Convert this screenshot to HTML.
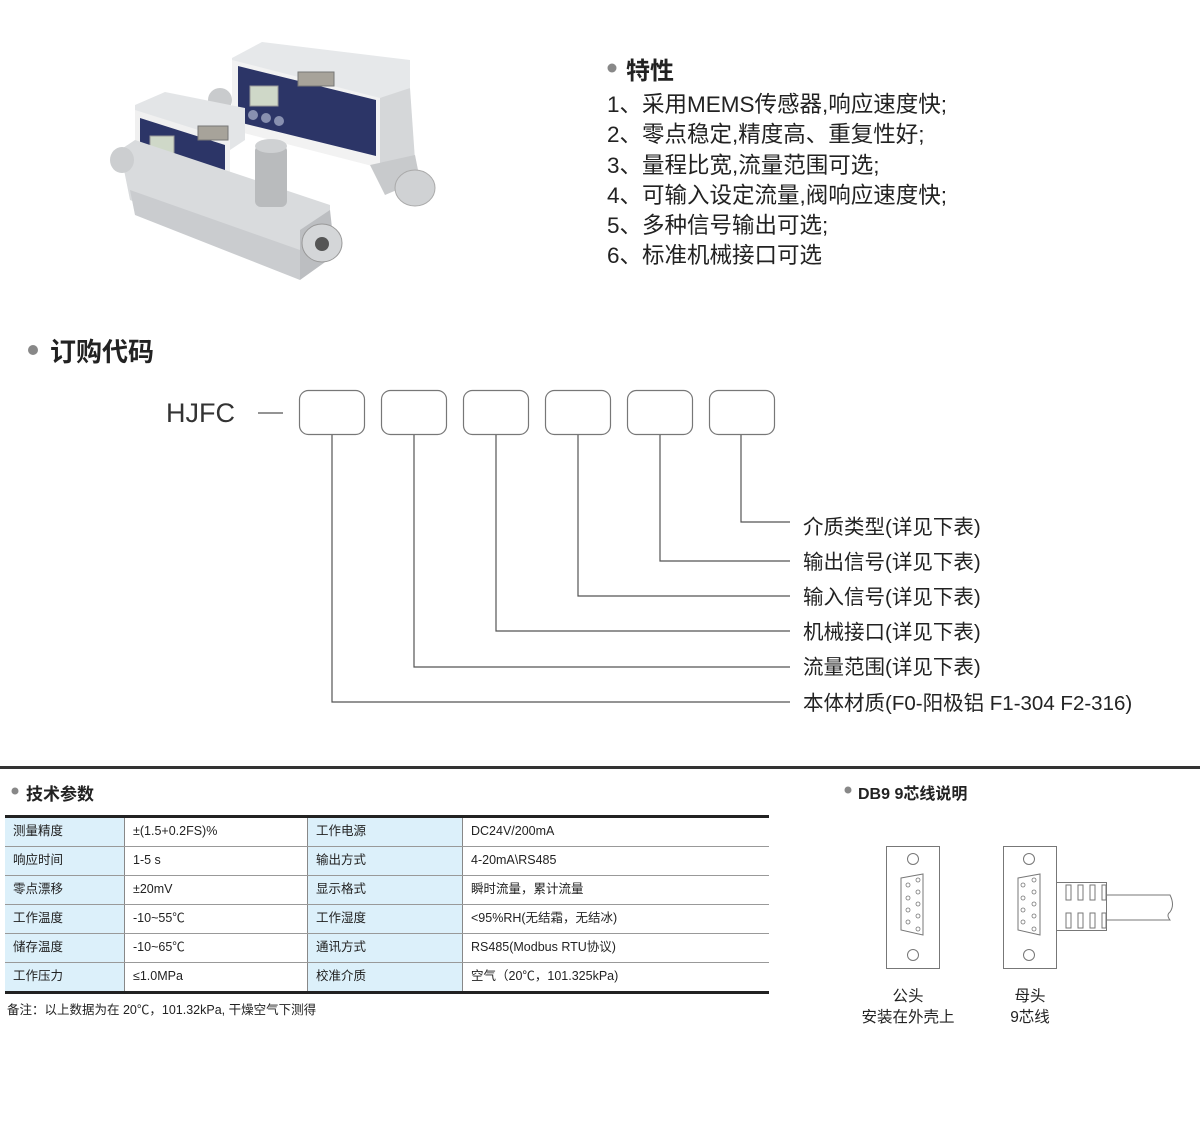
<!DOCTYPE html>
<html><head><meta charset="utf-8"><style>
html,body{margin:0;padding:0;background:#fff;}
body{width:1200px;height:1147px;position:relative;overflow:hidden;font-family:"Liberation Sans","Noto Sans CJK SC",sans-serif;color:#222;}
svg{position:absolute;left:0;top:0;}
.t{position:absolute;white-space:nowrap;}
.feat{font-size:22.5px;line-height:30.3px;left:607px;top:90px;color:#222;}
.lbl{font-size:20.5px;left:803px;color:#222;}
table{position:absolute;left:5px;top:815px;width:764px;border-collapse:collapse;font-size:12.5px;border-top:3px solid #222;border-bottom:3px solid #222;}
td{height:26px;line-height:16px;border-bottom:1px solid #999;border-right:1px solid #888;padding:0 0 2px 8px;vertical-align:middle;}
td:last-child{border-right:none;}
tr:last-child td{border-bottom:none;}
.b{background:#dcf0fa;}
</style></head><body>
<svg width="1200" height="1147" viewBox="0 0 1200 1147">
<g>
 <polygon points="232,58 262,42 410,60 410,88 380,100 232,80" fill="#e6e8ea"/>
 <polygon points="232,60 380,98 380,168 232,130" fill="#f2f2f2"/>
 <polygon points="238,66 376,100 376,156 238,122" fill="#2c3567"/>
 <rect x="250" y="86" width="28" height="20" fill="#cfd8c8" stroke="#999"/>
 <circle cx="253" cy="115" r="5" fill="#8890b0"/><circle cx="266" cy="118" r="5" fill="#8890b0"/><circle cx="279" cy="121" r="5" fill="#8890b0"/>
 <rect x="298" y="72" width="36" height="14" fill="#a7a39a" stroke="#777"/>
 <polygon points="380,98 410,88 415,160 380,170" fill="#d5d7d9"/>
 <polygon points="370,165 415,155 420,180 385,195" fill="#c8cacc"/>
 <ellipse cx="415" cy="188" rx="20" ry="18" fill="#d0d2d4" stroke="#aaa"/>
 <ellipse cx="220" cy="100" rx="12" ry="12" fill="#c9cbcd"/>
 <polygon points="135,105 165,92 245,108 245,140 230,150 135,120" fill="#e3e5e7"/>
 <polygon points="135,110 230,140 230,210 135,180" fill="#f0f0f0"/>
 <polygon points="140,118 225,145 225,200 140,172" fill="#2c3567"/>
 <rect x="150" y="136" width="24" height="18" fill="#cfd8c8" stroke="#999"/>
 <rect x="198" y="126" width="30" height="14" fill="#a7a39a" stroke="#777"/>
 <polygon points="120,150 135,140 330,205 330,245 300,270 130,200" fill="#d9dbdd"/>
 <polygon points="130,190 300,250 300,280 135,215" fill="#cacccf"/>
 <polygon points="300,230 330,210 335,255 300,280" fill="#bcbec1"/>
 <rect x="255" y="145" width="32" height="62" rx="6" fill="#b9bbbd"/>
 <ellipse cx="271" cy="146" rx="16" ry="7" fill="#cfd1d3"/>
 <ellipse cx="322" cy="243" rx="20" ry="19" fill="#d4d6d8" stroke="#999"/>
 <circle cx="322" cy="244" r="7" fill="#555"/>
 <ellipse cx="122" cy="160" rx="12" ry="13" fill="#ccced0"/>
</g>
<circle cx="612" cy="68" r="4.5" fill="#888"/>
<circle cx="33" cy="350" r="5" fill="#888"/>
<circle cx="15" cy="791" r="3.5" fill="#888"/>
<circle cx="848" cy="790" r="3.5" fill="#888"/>
<line x1="258" y1="413" x2="283" y2="413" stroke="#555" stroke-width="1.2"/>
<g fill="none" stroke="#777" stroke-width="1.2">
 <rect x="299.5" y="390.5" width="65" height="44" rx="9"/>
 <rect x="381.5" y="390.5" width="65" height="44" rx="9"/>
 <rect x="463.5" y="390.5" width="65" height="44" rx="9"/>
 <rect x="545.5" y="390.5" width="65" height="44" rx="9"/>
 <rect x="627.5" y="390.5" width="65" height="44" rx="9"/>
 <rect x="709.5" y="390.5" width="65" height="44" rx="9"/>
</g>
<g fill="none" stroke="#555" stroke-width="1.2">
 <polyline points="332,435 332,702 790,702"/>
 <polyline points="414,435 414,667 790,667"/>
 <polyline points="496,435 496,631 790,631"/>
 <polyline points="578,435 578,596 790,596"/>
 <polyline points="660,435 660,561 790,561"/>
 <polyline points="741,435 741,522 790,522"/>
</g>
<rect x="0" y="766" width="1200" height="3" fill="#333"/>
<g fill="none" stroke="#777" stroke-width="1">
 <rect x="886.5" y="846.5" width="53" height="122"/>
 <circle cx="913" cy="859" r="5.5"/><circle cx="913" cy="955" r="5.5"/>
 <path d="M901 878 L923 874 L923 935 L901 930 Z"/>
 <rect x="1003.5" y="846.5" width="53" height="122"/>
 <circle cx="1029" cy="859" r="5.5"/><circle cx="1029" cy="955" r="5.5"/>
 <path d="M1018 878 L1040 874 L1040 935 L1018 930 Z"/>
 <rect x="1056.5" y="882.5" width="50" height="48"/>
 <path d="M1106 895 L1170 895 Q1175 905 1170 912 Q1166 915 1170 920 L1106 920"/>
 <rect x="1066" y="885" width="5" height="15"/><rect x="1078" y="885" width="5" height="15"/><rect x="1090" y="885" width="5" height="15"/><rect x="1102" y="885" width="4" height="15"/>
 <rect x="1066" y="913" width="5" height="15"/><rect x="1078" y="913" width="5" height="15"/><rect x="1090" y="913" width="5" height="15"/><rect x="1102" y="913" width="4" height="15"/>
</g>
<g fill="none" stroke="#777" stroke-width="0.8">
 <circle cx="908" cy="885" r="2"/><circle cx="908" cy="898" r="2"/><circle cx="908" cy="910" r="2"/><circle cx="908" cy="922" r="2"/>
 <circle cx="918" cy="880" r="2"/><circle cx="918" cy="892" r="2"/><circle cx="918" cy="904" r="2"/><circle cx="918" cy="916" r="2"/><circle cx="918" cy="929" r="2"/>
 <circle cx="1023" cy="885" r="2"/><circle cx="1023" cy="898" r="2"/><circle cx="1023" cy="910" r="2"/><circle cx="1023" cy="922" r="2"/>
 <circle cx="1034" cy="880" r="2"/><circle cx="1034" cy="892" r="2"/><circle cx="1034" cy="904" r="2"/><circle cx="1034" cy="916" r="2"/><circle cx="1034" cy="929" r="2"/>
</g>
</svg>

<div class="t" style="left:626px;top:51px;font-size:24px;font-weight:bold;">特性</div>
<div class="t feat">1、采用MEMS传感器,响应速度快;<br>2、零点稳定,精度高、重复性好;<br>3、量程比宽,流量范围可选;<br>4、可输入设定流量,阀响应速度快;<br>5、多种信号输出可选;<br>6、标准机械接口可选</div>

<div class="t" style="left:50px;top:332px;font-size:26px;font-weight:bold;">订购代码</div>
<div class="t" style="left:166px;top:398px;font-size:27px;color:#333;">HJFC</div>

<div class="t lbl" style="top:510px;">介质类型(详见下表)</div>
<div class="t lbl" style="top:545px;">输出信号(详见下表)</div>
<div class="t lbl" style="top:580px;">输入信号(详见下表)</div>
<div class="t lbl" style="top:615px;">机械接口(详见下表)</div>
<div class="t lbl" style="top:650px;">流量范围(详见下表)</div>
<div class="t lbl" style="top:686px;">本体材质(F0-阳极铝 F1-304 F2-316)</div>

<div class="t" style="left:26px;top:780px;font-size:17px;font-weight:bold;">技术参数</div>
<table>
<tr><td class="b" style="width:111px">测量精度</td><td style="width:174px">±(1.5+0.2FS)%</td><td class="b" style="width:146px">工作电源</td><td>DC24V/200mA</td></tr>
<tr><td class="b">响应时间</td><td>1-5 s</td><td class="b">输出方式</td><td>4-20mA\RS485</td></tr>
<tr><td class="b">零点漂移</td><td>±20mV</td><td class="b">显示格式</td><td>瞬时流量，累计流量</td></tr>
<tr><td class="b">工作温度</td><td>-10~55℃</td><td class="b">工作湿度</td><td>&lt;95%RH(无结霜，无结冰)</td></tr>
<tr><td class="b">储存温度</td><td>-10~65℃</td><td class="b">通讯方式</td><td>RS485(Modbus RTU协议)</td></tr>
<tr><td class="b">工作压力</td><td>≤1.0MPa</td><td class="b">校准介质</td><td>空气（20℃，101.325kPa)</td></tr>
</table>
<div class="t" style="left:7px;top:999px;font-size:12.5px;">备注：以上数据为在 20℃，101.32kPa, 干燥空气下测得</div>

<div class="t" style="left:858px;top:780px;font-size:16px;font-weight:bold;">DB9 9芯线说明</div>
<div class="t" style="left:858px;top:986px;width:100px;text-align:center;font-size:15.5px;line-height:21px;">公头<br>安装在外壳上</div>
<div class="t" style="left:990px;top:986px;width:80px;text-align:center;font-size:15.5px;line-height:21px;">母头<br>9芯线</div>
</body></html>
